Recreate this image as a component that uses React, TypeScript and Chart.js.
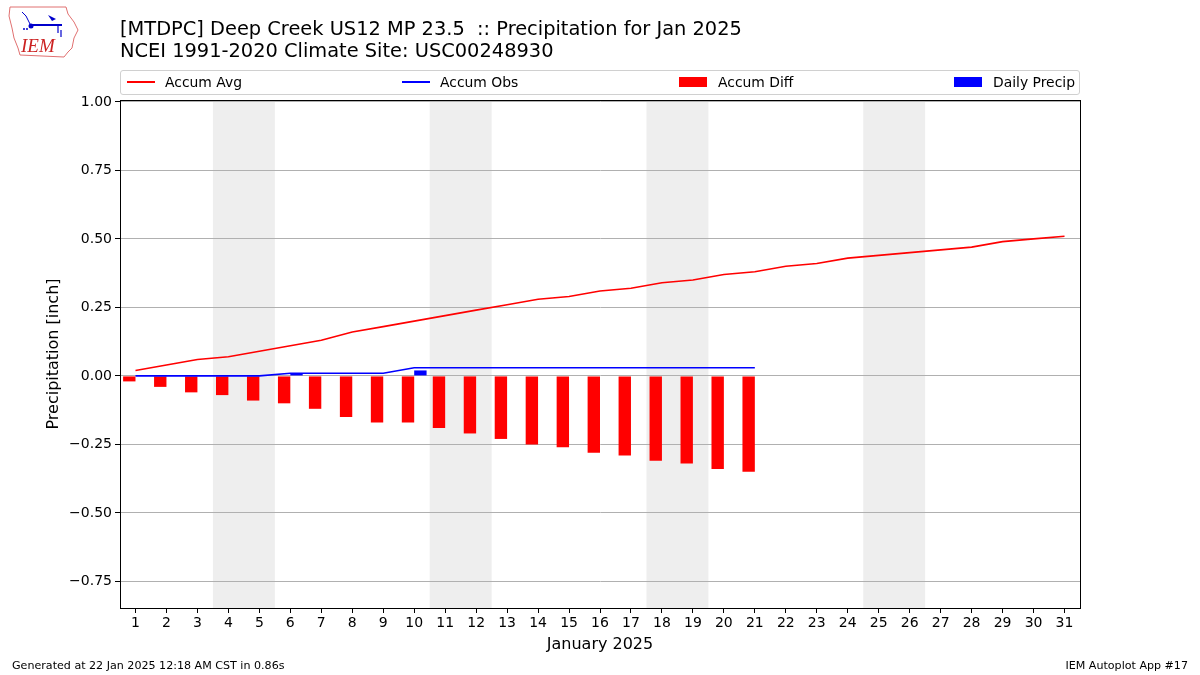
import React, { useEffect, useRef } from "react";
import { Chart, registerables } from "chart.js";

Chart.register(...registerables);

const days: string[] = Array.from({ length: 31 }, (_, i) => String(i + 1));
const accumAvg: number[] = [
  0.02, 0.04, 0.06, 0.07, 0.09, 0.11, 0.13, 0.16, 0.18, 0.2, 0.22, 0.24, 0.26, 0.28, 0.29, 0.31,
  0.32, 0.34, 0.35, 0.37, 0.38, 0.4, 0.41, 0.43, 0.44, 0.45, 0.46, 0.47, 0.49, 0.5, 0.51,
];
const accumObs: number[] = [
  0, 0, 0, 0, 0, 0.01, 0.01, 0.01, 0.01, 0.03, 0.03, 0.03, 0.03, 0.03, 0.03, 0.03, 0.03, 0.03,
  0.03, 0.03, 0.03,
];
const accumDiff: number[] = [
  -0.02, -0.04, -0.06, -0.07, -0.09, -0.1, -0.12, -0.15, -0.17, -0.17, -0.19, -0.21, -0.23, -0.25,
  -0.26, -0.28, -0.29, -0.31, -0.32, -0.34, -0.35,
];
const dailyPrecip: (number | null)[] = [
  0, 0, 0, 0, 0, 0.01, 0, 0, 0, 0.02, 0, 0, 0, 0, 0, 0, 0, 0, 0, 0, 0,
];
const weekendStartDays: number[] = [4, 11, 18, 25];
const yTicks: number[] = [-0.75, -0.5, -0.25, 0, 0.25, 0.5, 0.75, 1.0];
const yMin = -0.847;
const yMax = 1.007;

const FONT = "'DejaVu Sans', sans-serif";

const shadePlugin = {
  id: "weekendShade",
  beforeDraw(chart: any) {
    const { ctx, chartArea, scales } = chart;
    const x = scales.x;
    ctx.save();
    ctx.fillStyle = "#eeeeee";
    weekendStartDays.forEach((d) => {
      const x0 = x.getPixelForValue(d - 1 - 0.5);
      const x1 = x.getPixelForValue(d - 1 + 1.5);
      ctx.fillRect(x0, chartArea.top, x1 - x0, chartArea.bottom - chartArea.top);
    });
    ctx.restore();
  },
  afterDraw(chart: any) {
    const { ctx, chartArea } = chart;
    ctx.save();
    ctx.strokeStyle = "#000";
    ctx.lineWidth = 1;
    ctx.strokeRect(
      Math.round(chartArea.left) + 0.5,
      Math.round(chartArea.top) + 0.5,
      Math.round(chartArea.right - chartArea.left),
      Math.round(chartArea.bottom - chartArea.top)
    );
    ctx.restore();
  },
};

function Logo() {
  return (
    <svg width="80" height="60" style={{ position: "absolute", left: 0, top: 0 }}>
      <polygon
        points="10,7 66,7 68,14 74,22 78,30 74,38 72,48 68,52 64,57 20,55 18,48 14,38 12,28 9,16"
        fill="none"
        stroke="#e07070"
        strokeWidth="1"
      />
      <line x1="30" y1="25" x2="62" y2="25" stroke="#0000cc" strokeWidth="2" />
      <circle cx="31" cy="26" r="2.5" fill="#0000cc" />
      <path d="M48,15 L56,19 L52,21 Z" fill="#0000cc" />
      <line x1="58" y1="25" x2="58" y2="33" stroke="#0000cc" strokeWidth="1.2" />
      <line x1="61" y1="30" x2="61" y2="37" stroke="#0000cc" strokeWidth="1.2" />
      <path d="M22,12 L26,16 L30,24" fill="none" stroke="#0000cc" strokeWidth="1" />
      <circle cx="24" cy="29" r="1" fill="#0000cc" />
      <circle cx="27" cy="29" r="1" fill="#0000cc" />
      <text
        x="21"
        y="52"
        fill="#cc2222"
        fontFamily="'Liberation Serif', serif"
        fontStyle="italic"
        fontSize="19"
      >
        IEM
      </text>
    </svg>
  );
}

export default function App() {
  const canvasRef = useRef<HTMLCanvasElement | null>(null);

  useEffect(() => {
    if (!canvasRef.current) return;
    const chart = new Chart(canvasRef.current, {
      type: "bar",
      data: {
        labels: days,
        datasets: [
          {
            type: "line",
            label: "Accum Avg",
            data: accumAvg,
            borderColor: "#ff0000",
            backgroundColor: "#ff0000",
            borderWidth: 1.6,
            pointRadius: 0,
            order: 0,
          } as any,
          {
            type: "line",
            label: "Accum Obs",
            data: accumObs,
            borderColor: "#0000ff",
            backgroundColor: "#0000ff",
            borderWidth: 1.6,
            pointRadius: 0,
            order: 0,
          } as any,
          {
            type: "bar",
            label: "Accum Diff",
            data: accumDiff,
            backgroundColor: "#ff0000",
            categoryPercentage: 0.8,
            barPercentage: 1.0,
            order: 1,
          },
          {
            type: "bar",
            label: "Daily Precip",
            data: dailyPrecip,
            backgroundColor: "#0000ff",
            categoryPercentage: 0.8,
            barPercentage: 1.0,
            order: 1,
          },
        ],
      },
      options: {
        animation: false,
        responsive: false,
        maintainAspectRatio: false,
        layout: { padding: { left: 40, right: 120, top: 100, bottom: 17 } },
        plugins: {
          legend: { display: false },
          tooltip: { enabled: false },
          title: { display: false },
        },
        scales: {
          x: {
            type: "category",
            offset: true,
            afterFit: (s: any) => {
              s.height = 50;
            },
            grid: {
              drawOnChartArea: false,
              drawTicks: true,
              tickLength: 5,
              tickColor: "#000",
              offset: false,
            },
            border: { color: "#000" },
            ticks: {
              color: "#000",
              font: { family: FONT, size: 14 },
              maxRotation: 0,
              autoSkip: false,
              padding: 2,
            },
            title: {
              display: true,
              text: "January 2025",
              color: "#000",
              font: { family: FONT, size: 16 },
              padding: { top: 4, bottom: 4 },
            },
          },
          y: {
            type: "linear",
            min: yMin,
            max: yMax,
            afterFit: (s: any) => {
              s.width = 80;
            },
            afterBuildTicks: (s: any) => {
              s.ticks = yTicks.map((v) => ({ value: v }));
            },
            grid: {
              color: "#b0b0b0",
              tickColor: "#000",
              tickLength: 5,
              drawTicks: true,
            },
            border: { color: "#000" },
            ticks: {
              color: "#000",
              font: { family: FONT, size: 14 },
              padding: 3,
              callback: (v: any) => {
                const n = Number(v);
                const s = Math.abs(n).toFixed(2);
                return n < 0 ? "\u2212" + s : s;
              },
            },
            title: {
              display: true,
              text: "Precipitation [inch]",
              color: "#000",
              font: { family: FONT, size: 16 },
              padding: { top: 4, bottom: 4 },
            },
          },
        },
      },
      plugins: [shadePlugin],
    });
    return () => chart.destroy();
  }, []);

  const legendItems = [
    { label: "Accum Avg", color: "#ff0000", kind: "line", hx: 6, tx: 44 },
    { label: "Accum Obs", color: "#0000ff", kind: "line", hx: 281, tx: 319 },
    { label: "Accum Diff", color: "#ff0000", kind: "patch", hx: 558, tx: 597 },
    { label: "Daily Precip", color: "#0000ff", kind: "patch", hx: 833, tx: 872 },
  ];

  return (
    <div
      style={{
        position: "absolute",
        left: 0,
        top: 0,
        width: 1200,
        height: 675,
        background: "#fff",
        fontFamily: FONT,
        color: "#000",
        overflow: "hidden",
      }}
    >
      <canvas
        ref={canvasRef}
        width={1200}
        height={675}
        style={{ position: "absolute", left: 0, top: 0, display: "block" }}
      />
      <Logo />
      <div
        style={{
          position: "absolute",
          left: 120,
          top: 18,
          fontSize: 19.4,
          lineHeight: "22px",
          whiteSpace: "pre",
        }}
      >
        <div>[MTDPC] Deep Creek US12 MP 23.5  :: Precipitation for Jan 2025</div>
        <div>NCEI 1991-2020 Climate Site: USC00248930</div>
      </div>
      <div
        style={{
          position: "absolute",
          left: 120,
          top: 70,
          width: 958,
          height: 23,
          border: "1px solid #d0d0d0",
          borderRadius: 3,
          background: "rgba(255,255,255,0.8)",
          fontSize: 13.9,
        }}
      >
        {legendItems.map((it) => (
          <React.Fragment key={it.label}>
            {it.kind === "line" ? (
              <div
                style={{
                  position: "absolute",
                  left: it.hx,
                  top: 10,
                  width: 28,
                  height: 2,
                  background: it.color,
                }}
              />
            ) : (
              <div
                style={{
                  position: "absolute",
                  left: it.hx,
                  top: 6,
                  width: 28,
                  height: 10,
                  background: it.color,
                }}
              />
            )}
            <div
              style={{
                position: "absolute",
                left: it.tx,
                top: 3,
                lineHeight: "16px",
                whiteSpace: "pre",
              }}
            >
              {it.label}
            </div>
          </React.Fragment>
        ))}
      </div>
      <div style={{ position: "absolute", left: 12, top: 659, fontSize: 11.1, lineHeight: "14px" }}>
        Generated at 22 Jan 2025 12:18 AM CST in 0.86s
      </div>
      <div
        style={{
          position: "absolute",
          right: 12,
          top: 659,
          fontSize: 11.1,
          lineHeight: "14px",
          textAlign: "right",
        }}
      >
        IEM Autoplot App #17
      </div>
    </div>
  );
}
